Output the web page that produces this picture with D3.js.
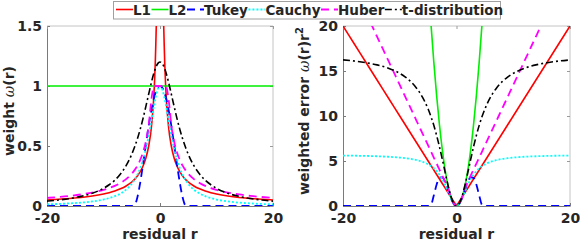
<!DOCTYPE html>
<html><head><meta charset="utf-8">
<script src="https://cdn.jsdelivr.net/npm/d3@7/dist/d3.min.js"></script>
<style>
body{margin:0;background:#fff}
svg{display:block}
text{font-family:"DejaVu Sans",sans-serif;font-weight:bold;fill:#262626}
</style></head>
<body><svg id="chart" width="580" height="242"></svg>
<script>
// ---- data ----
const residual = [-20,-18,-16,-14,-12,-10,-9,-8,-7,-6,-5,-4.5,-4,-3.5,-3,-2.5,-2,-1.5,-1,-0.75,-0.5,-0.25,0,0.25,0.5,0.75,1,1.5,2,2.5,3,3.5,4,4.5,5,6,7,8,9,10,12,14,16,18,20];

const weightL1 = [0.05,0.056,0.063,0.071,0.083,0.1,0.111,0.125,0.143,0.167,0.2,0.222,0.25,0.286,0.333,0.4,0.5,0.667,1,1.333,2,4,null,4,2,1.333,1,0.667,0.5,0.4,0.333,0.286,0.25,0.222,0.2,0.167,0.143,0.125,0.111,0.1,0.083,0.071,0.063,0.056,0.05];
const weightL2 = [1,1,1,1,1,1,1,1,1,1,1,1,1,1,1,1,1,1,1,1,1,1,1,1,1,1,1,1,1,1,1,1,1,1,1,1,1,1,1,1,1,1,1,1,1];
const weightTukey = [0,0,0,0,0,0,0,0,0,0,0,0.006,0.073,0.195,0.348,0.512,0.669,0.806,0.911,0.949,0.977,0.994,1,0.994,0.977,0.949,0.911,0.806,0.669,0.512,0.348,0.195,0.073,0.006,0,0,0,0,0,0,0,0,0,0,0];
const weightCauchy = [0.014,0.017,0.022,0.028,0.038,0.054,0.066,0.082,0.104,0.136,0.185,0.219,0.262,0.317,0.387,0.477,0.587,0.717,0.851,0.91,0.958,0.989,1,0.989,0.958,0.91,0.851,0.717,0.587,0.477,0.387,0.317,0.262,0.219,0.185,0.136,0.104,0.082,0.066,0.054,0.038,0.028,0.022,0.017,0.014];
const weightHuber = [0.067,0.075,0.084,0.096,0.112,0.135,0.149,0.168,0.192,0.224,0.269,0.299,0.336,0.384,0.448,0.538,0.673,0.897,1,1,1,1,1,1,1,1,1,0.897,0.673,0.538,0.448,0.384,0.336,0.299,0.269,0.224,0.192,0.168,0.149,0.135,0.112,0.096,0.084,0.075,0.067];
const weightT = [0.041,0.05,0.062,0.08,0.106,0.147,0.177,0.215,0.267,0.336,0.431,0.491,0.56,0.64,0.73,0.83,0.933,1.034,1.12,1.154,1.179,1.195,1.2,1.195,1.179,1.154,1.12,1.034,0.933,0.83,0.73,0.64,0.56,0.491,0.431,0.336,0.267,0.215,0.177,0.147,0.106,0.08,0.062,0.05,0.041];

const errorL1 = [20,18,16,14,12,10,9,8,7,6,5,4.5,4,3.5,3,2.5,2,1.5,1,0.75,0.5,0.25,0,0.25,0.5,0.75,1,1.5,2,2.5,3,3.5,4,4.5,5,6,7,8,9,10,12,14,16,18,20];
const errorL2 = [400,324,256,196,144,100,81,64,49,36,25,20.25,16,12.25,9,6.25,4,2.25,1,0.5625,0.25,0.0625,0,0.0625,0.25,0.5625,1,2.25,4,6.25,9,12.25,16,20.25,25,36,49,64,81,100,144,196,256,324,400];
const errorTukey = [0,0,0,0,0,0,0,0,0,0,0,0.121,1.175,2.392,3.133,3.197,2.675,1.812,0.911,0.534,0.244,0.062,0,0.062,0.244,0.534,0.911,1.812,2.675,3.197,3.133,2.392,1.175,0.121,0,0,0,0,0,0,0,0,0,0,0];
const errorCauchy = [5.608,5.59,5.564,5.528,5.472,5.382,5.315,5.224,5.096,4.912,4.634,4.441,4.197,3.884,3.486,2.978,2.348,1.612,0.851,0.512,0.24,0.062,0,0.062,0.24,0.512,0.851,1.612,2.348,2.978,3.486,3.884,4.197,4.441,4.634,4.912,5.096,5.224,5.315,5.382,5.472,5.528,5.564,5.59,5.608];
const errorHuber = [26.9,24.21,21.52,18.83,16.14,13.45,12.105,10.76,9.415,8.07,6.725,6.053,5.38,4.708,4.035,3.363,2.69,2.018,1,0.5625,0.25,0.0625,0,0.0625,0.25,0.5625,1,2.018,2.69,3.363,4.035,4.708,5.38,6.053,6.725,8.07,9.415,10.76,12.105,13.45,16.14,18.83,21.52,24.21,26.9];
const errorT = [16.234,16.103,15.923,15.68,15.307,14.74,14.321,13.786,13.067,12.096,10.77,9.933,8.96,7.84,6.574,5.185,3.733,2.326,1.12,0.649,0.295,0.075,0,0.075,0.295,0.649,1.12,2.326,3.733,5.185,6.574,7.84,8.96,9.933,10.77,12.096,13.067,13.786,14.321,14.74,15.307,15.68,15.923,16.103,16.234];

const seriesNames = ["L1","L2","Tukey","Cauchy","Huber","t-distribution"];
const xTicks = [-20,0,20];
const xTickLabels = ["-20","0","20"];
const weightTicks = [0,0.5,1,1.5];
const weightTickLabels = ["0","0.5","1","1.5"];
const errorTicks = [0,5,10,15,20];
const errorTickLabels = ["0","5","10","15","20"];

// ---- styles ----
const styles = [
  {color:"#ff0000", dash:null, w:1.6},
  {color:"#00ee00", dash:null, w:1.6},
  {color:"#0000ff", dash:"8,5", w:1.8},
  {color:"#00ffff", dash:"2,2", w:1.8},
  {color:"#ff00ff", dash:"8,5", w:1.8},
  {color:"#000000", dash:"7,3,2,3", w:1.6}
];

const svg = d3.select("#chart");

function panel(id, x0, x1, y0, y1, yMax, yTicks, yTickLabels, seriesData){
  const x = d3.scaleLinear().domain([-20,20]).range([x0,x1]);
  const y = d3.scaleLinear().domain([0,yMax]).range([y1,y0]);
  const g = svg.append("g");
  g.append("clipPath").attr("id",id).append("rect")
    .attr("x",x0).attr("y",y0).attr("width",x1-x0).attr("height",y1-y0);
  // box
  g.append("line").attr("x1",x0).attr("x2",x1).attr("y1",y0).attr("y2",y0).attr("stroke","#c4c4c4");
  g.append("line").attr("x1",x1).attr("x2",x1).attr("y1",y0).attr("y2",y1).attr("stroke","#c4c4c4");
  // axes
  const xa = d3.axisBottom(x).tickValues(xTicks).tickFormat((d,i)=>xTickLabels[i]).tickSizeInner(-3).tickSizeOuter(0).tickPadding(7.5);
  const ya = d3.axisLeft(y).tickValues(yTicks).tickFormat((d,i)=>yTickLabels[i]).tickSizeInner(-3).tickSizeOuter(0).tickPadding(5);
  const gx = g.append("g").attr("transform",`translate(0,${y1})`).call(xa);
  const gy = g.append("g").attr("transform",`translate(${x0},0)`).call(ya);
  const gxt = g.append("g").attr("transform",`translate(0,${y0})`).call(d3.axisTop(x).tickValues(xTicks).tickFormat("").tickSizeInner(-3).tickSizeOuter(0));
  const gyr = g.append("g").attr("transform",`translate(${x1},0)`).call(d3.axisRight(y).tickValues(yTicks).tickFormat("").tickSizeInner(-3).tickSizeOuter(0));
  [gx,gy].forEach(a=>{a.select(".domain").attr("stroke","#7a7a7a");a.selectAll(".tick line").attr("stroke","#7a7a7a");
    a.selectAll("text").attr("font-size",14).attr("font-family","DejaVu Sans").attr("font-weight","bold").attr("fill","#262626");});
  [gxt,gyr].forEach(a=>{a.select(".domain").remove();a.selectAll(".tick line").attr("stroke","#9a9a9a");});
  // lines
  const plot = g.append("g").attr("clip-path",`url(#${id})`);
  seriesData.forEach((vals,i)=>{
    const pts = residual.map((r,k)=>[r,vals[k]]);
    const line = d3.line().defined(d=>d[1]!==null).x(d=>x(d[0])).y(d=>y(d[1])).curve(d3.curveMonotoneX);
    plot.append("path").attr("d",line(pts)).attr("fill","none")
      .attr("stroke",styles[i].color).attr("stroke-width",styles[i].w)
      .attr("stroke-dasharray",styles[i].dash);
  });
  // x label
  g.append("text").attr("x",(x0+x1)/2).attr("y",239).attr("text-anchor","middle").attr("font-size",14).text("residual r");
  return {x,y};
}

panel("clipL",47,273,26,206,1.5,weightTicks,weightTickLabels,
  [weightL1,weightL2,weightTukey,weightCauchy,weightHuber,weightT]);
panel("clipR",343,570,26,206,20,errorTicks,errorTickLabels,
  [errorL1,errorL2,errorTukey,errorCauchy,errorHuber,errorT]);

// y labels
const yl = svg.append("text").attr("transform","translate(14,111) rotate(-90)").attr("text-anchor","middle").attr("font-size",14);
yl.append("tspan").text("weight ");
yl.append("tspan").attr("font-family","DejaVu Serif").attr("font-style","italic").attr("font-weight","normal").text("ω");
yl.append("tspan").text("(r)");

const yr = svg.append("text").attr("transform","translate(309,111) rotate(-90)").attr("text-anchor","middle").attr("font-size",14);
yr.append("tspan").text("weighted error ");
yr.append("tspan").attr("font-family","DejaVu Serif").attr("font-style","italic").attr("font-weight","normal").text("ω");
yr.append("tspan").text("(r)r");
yr.append("tspan").attr("dy",-6).attr("font-size",10).text("2");

// legend
const leg = svg.append("g");
leg.append("rect").attr("x",113.5).attr("y",1.5).attr("width",387).attr("height",17.5)
  .attr("fill","#fff").attr("stroke","#a0a0a0");
let lx = 116;
seriesNames.forEach((name,i)=>{
  leg.append("line").attr("x1",lx).attr("x2",lx+17).attr("y1",9.5).attr("y2",9.5)
    .attr("stroke",styles[i].color).attr("stroke-width",styles[i].w).attr("stroke-dasharray",styles[i].dash);
  const t = leg.append("text").attr("x",lx+17).attr("y",14.5).attr("font-size",13.5).text(name);
  lx += 17 + t.node().getComputedTextLength() + 0.5;
});
</script></body></html>
